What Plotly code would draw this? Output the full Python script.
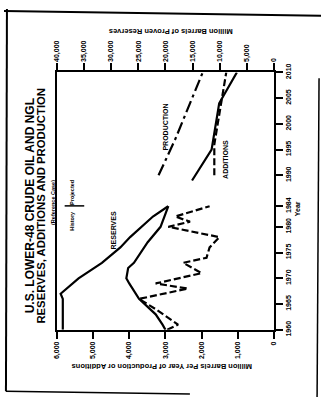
import plotly.graph_objects as go

# ---- data -------------------------------------------------------------
# Historical series (1960-1984)
res_hist_years = [1960, 1963, 1966, 1967, 1970, 1973, 1976, 1978, 1980, 1982, 1984]
reserves_hist = [38900, 38900, 38900, 39300, 36000, 31700, 28300, 26500, 24300, 22300, 19500]

prod_hist_years = [1960, 1961, 1963, 1966, 1969, 1970, 1972, 1973, 1977, 1980, 1984]
production_hist = [3000, 3080, 3270, 3730, 4000, 4080, 4030, 3870, 3490, 3135, 2920]

add_hist_years = [1960, 1961, 1964, 1966, 1968, 1969, 1971, 1973, 1974, 1976, 1978,
                  1980, 1981, 1982, 1984]
additions_hist = [2950, 2650, 3270, 3730, 2380, 3270, 2000, 2510, 1865, 1780, 1510,
                  2920, 2320, 2730, 1780]

# Projected series (Reference Case)
res_proj_years = [1989, 1995, 2004, 2010]
reserves_proj = [15100, 11500, 10100, 6850]

prod_proj_years = [1990, 1997, 2010]
production_proj = [3190, 2730, 1970]

add_proj_years = [1990, 1996, 2010]
additions_proj = [1650, 1650, 1320]

# Axis ticks
year_ticks = [1960, 1965, 1970, 1975, 1980, 1984, 1990, 1995, 2000, 2005, 2010]
rate_ticks = [6000, 5000, 4000, 3000, 2000, 1000, 0]
rate_tick_text = ["6,000", "5,000", "4,000", "3,000", "2,000", "1,000", "0"]
res_ticks = [40000, 35000, 30000, 25000, 20000, 15000, 10000, 5000, 0]
res_tick_text = ["40,000", "35,000", "30,000", "25,000", "20,000", "15,000",
                 "10,000", "5,000", "0"]

# ---- figure -----------------------------------------------------------
W, H = 324, 404
FONT = "Liberation Sans"


def pp(x, y):
    """pixel position -> paper coordinates"""
    return x / W, 1 - y / H


fig = go.Figure()

line_w = 2.2
fig.add_trace(go.Scatter(x=reserves_hist, y=res_hist_years, xaxis="x2", yaxis="y",
                         mode="lines", line=dict(color="black", width=line_w)))
fig.add_trace(go.Scatter(x=reserves_proj, y=res_proj_years, xaxis="x2", yaxis="y",
                         mode="lines", line=dict(color="black", width=line_w)))
fig.add_trace(go.Scatter(x=production_hist, y=prod_hist_years, xaxis="x", yaxis="y",
                         mode="lines", line=dict(color="black", width=line_w)))
fig.add_trace(go.Scatter(x=production_proj, y=prod_proj_years, xaxis="x", yaxis="y",
                         mode="lines", line=dict(color="black", width=line_w,
                                                 dash="12px,4px,3px,4px")))
fig.add_trace(go.Scatter(x=additions_hist, y=add_hist_years, xaxis="x", yaxis="y",
                         mode="lines", line=dict(color="black", width=line_w,
                                                 dash="7px,3px")))
fig.add_trace(go.Scatter(x=additions_proj, y=add_proj_years, xaxis="x", yaxis="y",
                         mode="lines", line=dict(color="black", width=line_w,
                                                 dash="7px,3px")))

tick_font = dict(family=FONT, size=7, color="black", weight=700)
x_dom = [54 / W, 276 / W]

fig.update_layout(
    width=W, height=H,
    margin=dict(l=0, r=0, t=0, b=0),
    paper_bgcolor="white", plot_bgcolor="white",
    showlegend=False,
    xaxis=dict(domain=x_dom, range=[6000, 0], anchor="y", side="bottom",
               tickvals=rate_ticks, ticktext=rate_tick_text, tickangle=-90,
               ticks="outside", ticklen=7, tickwidth=1.5, tickcolor="black",
               showline=True, linecolor="black", linewidth=2,
               showgrid=False, zeroline=False, tickfont=tick_font),
    xaxis2=dict(domain=x_dom, range=[40000, 0], anchor="y", side="top",
                overlaying="x",
                tickvals=res_ticks, ticktext=res_tick_text, tickangle=-90,
                ticks="outside", ticklen=7, tickwidth=1.5, tickcolor="black",
                showline=True, linecolor="black", linewidth=2,
                showgrid=False, zeroline=False, tickfont=tick_font),
    yaxis=dict(domain=[1 - 334 / H, 1 - 66 / H], range=[1960, 2010], anchor="x",
               side="right", mirror=True,
               tickvals=year_ticks, tickangle=-90,
               ticks="outside", ticklen=7, tickwidth=1.5, tickcolor="black",
               showline=True, linecolor="black", linewidth=2,
               showgrid=False, zeroline=False, tickfont=tick_font),
)

annots = [
    ("U.S. LOWER-48 CRUDE OIL AND NGL", 26, 205, -90, 12),
    ("RESERVES, ADDITIONS AND PRODUCTION", 37.5, 205, -90, 11.3),
    ("(Reference Case)", 50, 201, -90, 5.5),
    ("History", 70, 220, -90, 5.5),
    ("Projected", 70, 191, -90, 5.5),
    ("RESERVES", 112, 231, -90, 7),
    ("PRODUCTION", 165, 123, -90, 7),
    ("ADDITIONS", 227, 157, -90, 7),
    ("Million Barrels of Proven Reserves", 170, 24, 180, 7.5),
    ("Million Barrels Per Year of Production or Additions", 162, 372, 180, 7.5),
    ("Year", 300, 208, -90, 7),
]
for text, x, y, ang, size in annots:
    ax, ay = pp(x, y)
    fig.add_annotation(text=text, x=ax, y=ay, xref="paper", yref="paper",
                       showarrow=False, textangle=ang, xanchor="center",
                       yanchor="middle",
                       font=dict(family=FONT, size=size, color="black", weight=700))

# History / Projected divider and page borders
segments = [
    ((62, 205), (82, 205), 1.5),
    ((0, 2), (324, 7), 2),
    ((3, 0), (2, 398), 2),
    ((2, 398), (190, 401), 1.5),
    ((322, 72), (320, 404), 1.5),
]
for (x0, y0), (x1, y1), w in segments:
    a0, b0 = pp(x0, y0)
    a1, b1 = pp(x1, y1)
    fig.add_shape(type="line", xref="paper", yref="paper", x0=a0, y0=b0, x1=a1, y1=b1,
                  line=dict(color="black", width=w))

fig.write_html("out.html")
